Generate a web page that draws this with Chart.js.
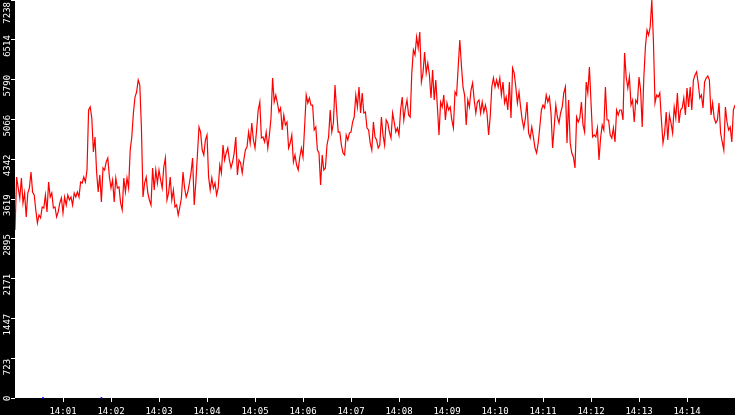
<!DOCTYPE html>
<html><head><meta charset="utf-8">
<script src="https://cdn.jsdelivr.net/npm/chart.js@4.4.1/dist/chart.umd.min.js"></script>
<style>html,body{margin:0;padding:0;background:#000;overflow:hidden}canvas{display:block}</style>
</head><body>
<canvas id="c" width="735" height="415"></canvas>
<script>
// ---- data ----
const startHour = 14;
const startMinute = 0;
const sampleStepSeconds = 2;
const xMaxSeconds = 900;
const yMax = 7238;
const yTickCount = 10;
const traffic = [
  3055,4019,3819,3637,4001,3546,3728,3292,3728,3819,
  4110,3746,3692,3419,3183,3328,3274,3473,3455,3692,
  3383,3928,3655,3728,3455,3473,3292,3383,3546,3637,
  3364,3655,3510,3692,3601,3655,3510,3728,3655,3746,
  3655,3928,3910,4019,3928,4146,5238,5292,5092,4474,
  4747,4110,3746,4056,3564,4183,4146,4292,4365,4019,
  3819,3965,3564,4001,3819,3837,3546,3419,4001,3746,
  4001,3819,4510,4747,5183,5474,5565,5783,
  5692,4928,
  3655,3910,4019,3728,3601,3510,4183,3783,4146,3910,
  4146,3965,3819,4201,4365,3601,3728,4019,3601,3783,
  3473,3510,3328,3473,3637,4110,3819,3655,3746,3910,
  4092,4365,3510,3910,4419,4928,4837,4510,4419,4692,
  4783,4019,3783,4001,3819,3910,3692,3819,4237,4092,
  4601,4328,4456,4546,4328,4183,4292,4456,4747,4056,
  4328,4274,4092,4328,4510,4565,4837,4637,5001,4692,
  4546,4874,5238,5383,
  4728,4747,4656,4837,4546,4783,
  5092,5820,5383,5510,5365,5201,5274,4874,5147,4965,
  5019,4546,4637,4783,4292,4419,4237,4146,4383,4546,
  4383,4928,5510,5365,5456,5328,5328,4874,4928,4510,
  4456,3874,4419,4146,4183,4601,4747,5238,4837,5001,
  5692,5238,4837,4837,4601,4456,4419,4783,4692,4819,
  4837,5019,5110,5510,5292,5656,5183,5547,5183,5201,
  4910,4874,4637,4510,5019,4747,4692,4546,4601,
  5110,4783,4601,5056,5001,4837,4728,5183,5019,4837,4910,
  4783,5238,5474,5056,5274,5419,5147,5110,5910,6329,
  6238,6565,6365,6656,5747,5910,6291,5910,6092,5874,
  5456,5965,5419,5783,5292,4783,5383,5292,5510,5056,
  5365,5238,5292,5056,4910,5565,5510,6020,6511,6056,
  5656,5510,4965,5419,5292,5601,5729,5419,5183,5383,
  5419,5183,5383,5201,5328,5183,4783,5110,5656,5820,
  5656,5783,5656,5820,
  5510,5747,5365,5474,5238,5747,5092,6001,5910,5656,
  5365,5565,5292,5056,4910,5092,5383,4819,4728,4928,
  4747,4546,4456,4637,4928,5238,5328,5274,5510,5383,
  5474,5183,4546,4928,5328,5110,5001,5183,5292,5547,
  5656,4637,5419,4637,4456,4383,4183,5110,5019,5092,
  5383,4965,4837,5747,5547,6020,5383,4747,4783,4747,
  4910,4328,4728,4965,4874,5656,5056,5056,4783,4728,
  4910,4656,5238,5147,5238,
  5238,5056,6274,5838,5638,5838,5328,5419,5019,5419,
  5365,5838,5601,4928,5820,6383,6692,6601,6747,7238,
  6511,5365,5510,5474,5547,5056,4637,4819,5201,4692,
  5147,5001,4819,5292,5092,5547,5001,5238,5274,5456,
  5147,5638,5292,5656,5238,5783,5874,5929,5729,5456,
  5510,5274,5747,5820,5856,5783,5147,5365,5092,5001,
  5056,5365,4819,4656,4510,5292,5019,4874,4928,4656,
  5238,5328
];
const markerSeconds = [35, 108];
const markerValues = [0, 0];

// ---- helpers ----
function timeLabel(sec) {
  const total = startHour * 60 + startMinute + Math.round(sec / 60);
  const h = Math.floor(total / 60), m = total % 60;
  return String(h).padStart(2, '0') + ':' + String(m).padStart(2, '0');
}
function yTickLabel(v) { return String(Math.floor(v + 1e-6)); }

const lineData = traffic.map((v, i) => ({ x: i * sampleStepSeconds, y: v }));
const markerData = markerSeconds.map((s, i) => ({ x: s, y: markerValues[i] }));

const FONT = '9px "DejaVu Sans Mono"';

const bgPlugin = {
  id: 'bg',
  beforeDraw(chart) {
    const { ctx, chartArea: a } = chart;
    ctx.save();
    ctx.fillStyle = '#000';
    ctx.fillRect(0, 0, chart.width, chart.height);
    ctx.fillStyle = '#fff';
    ctx.fillRect(a.left, a.top, a.right - a.left, a.bottom - a.top);
    ctx.restore();
  }
};

const yLabelPlugin = {
  id: 'yLabels',
  afterDraw(chart) {
    const s = chart.scales.y, ctx = chart.ctx, a = chart.chartArea;
    ctx.save();
    ctx.font = FONT;
    ctx.fillStyle = '#fff';
    ctx.textBaseline = 'alphabetic';
    ctx.textAlign = 'left';
    s.ticks.forEach(t => {
      const label = yTickLabel(t.value);
      const py = s.getPixelForValue(t.value);
      const w = ctx.measureText(label).width;
      let start = py + 17;
      if (start > a.bottom + 3) start = a.bottom + 3;
      if (start - w < 2) start = 2 + w;
      ctx.save();
      ctx.translate(10, start);
      ctx.rotate(-Math.PI / 2);
      ctx.fillText(label, 0, 0);
      ctx.restore();
    });
    ctx.restore();
  }
};

new Chart(document.getElementById('c'), {
  type: 'line',
  data: {
    datasets: [
      {
        data: lineData,
        borderColor: '#ff0000',
        borderWidth: 1.2,
        pointRadius: 0,
        pointHoverRadius: 0,
        fill: false,
        tension: 0
      },
      {
        type: 'scatter',
        data: markerData,
        pointRadius: 1,
        pointHoverRadius: 0,
        pointBorderWidth: 0,
        backgroundColor: '#0000ff',
        borderColor: '#0000ff',
        showLine: false,
        clip: false
      }
    ]
  },
  options: {
    responsive: false,
    devicePixelRatio: 1,
    animation: false,
    events: [],
    layout: { padding: 0, autoPadding: false },
    plugins: { legend: { display: false }, tooltip: { enabled: false } },
    scales: {
      x: {
        type: 'linear',
        min: 0,
        max: xMaxSeconds,
        afterFit(scale) {
          scale.height = 17;
          scale.paddingLeft = 0; scale.paddingRight = 0;
          scale.paddingTop = 0; scale.paddingBottom = 0;
        },
        border: { display: false },
        grid: {
          drawOnChartArea: false,
          drawTicks: true,
          tickLength: 4,
          lineWidth: 1,
          color: ctx => (ctx.tick && (ctx.tick.value <= 0 || ctx.tick.value >= xMaxSeconds)) ? 'rgba(0,0,0,0)' : '#ffffff'
        },
        ticks: {
          stepSize: 60,
          autoSkip: false,
          maxRotation: 0,
          minRotation: 0,
          padding: 4,
          color: '#ffffff',
          font: { family: 'DejaVu Sans Mono', size: 9 },
          callback: v => (v <= 0 || v >= xMaxSeconds) ? '' : timeLabel(v)
        }
      },
      y: {
        type: 'linear',
        min: 0,
        max: yMax,
        afterFit(scale) {
          scale.width = 15;
          scale.paddingLeft = 0; scale.paddingRight = 0;
          scale.paddingTop = 0; scale.paddingBottom = 0;
        },
        border: { display: false },
        grid: {
          drawOnChartArea: false,
          drawTicks: true,
          tickLength: 4,
          lineWidth: 1,
          color: '#ffffff'
        },
        ticks: {
          display: false,
          stepSize: yMax / yTickCount,
          callback: v => yTickLabel(v)
        }
      }
    }
  },
  plugins: [bgPlugin, yLabelPlugin]
});
</script>
</body></html>
